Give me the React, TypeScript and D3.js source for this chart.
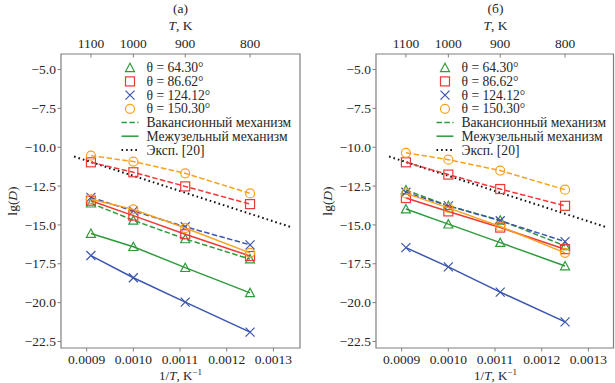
import React from "react";
import * as d3 from "d3";

const invT = [1 / 1100, 1 / 1000, 1 / 900, 1 / 800];
const tempTicks = [1100, 1000, 900, 800];
const xTicks = [0.0009, 0.001, 0.0011, 0.0012, 0.0013];
const yTicks = [-5, -7.5, -10, -12.5, -15, -17.5, -20, -22.5];
const thetaLabels = ["θ = 64.30°", "θ = 86.62°", "θ = 124.12°", "θ = 150.30°"];
const markers = ["triangle", "square", "cross", "circle"];
const colors = ["#2f9a3b", "#ec3a36", "#3a55ae", "#f7a21e"];

const vacA = [
  [-13.6, -14.7, -15.9, -17.2],
  [-10.97, -11.61, -12.52, -13.66],
  [-13.23, -14.1, -15.12, -16.28],
  [-10.54, -10.92, -11.68, -12.97],
];
const intA = [
  [-15.55, -16.4, -17.75, -19.37],
  [-13.44, -14.4, -15.6, -17.0],
  [-16.97, -18.4, -19.97, -21.9],
  [-13.35, -14.0, -15.2, -16.8],
];
const vacB = [
  [-12.75, -13.77, -14.7, -16.35],
  [-10.97, -11.76, -12.69, -13.77],
  [-12.9, -13.77, -14.73, -16.07],
  [-10.36, -10.8, -11.5, -12.73],
];
const intB = [
  [-13.98, -14.95, -16.14, -17.64],
  [-13.27, -14.13, -15.17, -16.56],
  [-16.46, -17.7, -19.32, -21.24],
  [-12.97, -13.9, -15.1, -16.8],
];
const expX = [0.000873, 0.001336];
const expY = [-10.6, -15.12];
const legendLines = ["Вакансионный механизм", "Межузельный механизм", "Эксп. [20]"];

const FONT = '"Liberation Serif", "Times New Roman", Times, serif';
const TXT = "#262626";
const FRAME = "#7f7f7f";
const FS = 13.5;
const LFS = 13.6;

function Marker({ type, x, y, color }: { type: string; x: number; y: number; color: string }) {
  const s = 4.5;
  const common = { fill: "none", stroke: color, strokeWidth: 1.2 };
  if (type === "triangle") {
    const p = [
      [x, y - s],
      [x - s, y + s * 0.85],
      [x + s, y + s * 0.85],
    ];
    return <polygon points={p.map((d) => d.join(",")).join(" ")} {...common} />;
  }
  if (type === "square") return <rect x={x - s} y={y - s} width={2 * s} height={2 * s} {...common} />;
  if (type === "circle") return <circle cx={x} cy={y} r={s} {...common} />;
  return (
    <path d={`M${x - s},${y - s}L${x + s},${y + s}M${x - s},${y + s}L${x + s},${y - s}`} {...common} />
  );
}

function Panel({ x0, title, vac, inter }: { x0: number; title: string; vac: number[][]; inter: number[][] }) {
  const left = x0 + 61;
  const right = x0 + 300;
  const top = 54;
  const bottom = 348;
  const x = d3.scaleLinear().domain([0.000845, 0.001357]).range([left, right]);
  const y = d3.scaleLinear().domain([-22.92, -4.0]).range([bottom, top]);
  const line = d3
    .line<number>()
    .x((_, i) => x(invT[i]))
    .y((d) => y(d));
  const cx = (left + right) / 2;
  const frameRight = Math.min(right, 613.5);
  const expLine = d3
    .line<number>()
    .x((_, i) => x(expX[i]))
    .y((d) => y(d));
  const legX = x0 + 130;
  const legY0 = 67.7;
  const legDy = 13.7;
  return (
    <g style={{ fontFamily: FONT }}>
      <text x={cx} y={13} textAnchor="middle" fontSize={FS} fill={TXT}>
        {title}
      </text>
      <text x={cx} y={30} textAnchor="middle" fontSize={FS} fill={TXT}>
        <tspan fontStyle="italic">T</tspan>, K
      </text>
      {tempTicks.map((t) => (
        <g key={t}>
          <line x1={x(1 / t)} x2={x(1 / t)} y1={top} y2={top + 3.5} stroke={FRAME} strokeWidth={1} />
          <text x={x(1 / t)} y={48} textAnchor="middle" fontSize={FS} fill={TXT}>
            {t}
          </text>
        </g>
      ))}
      {xTicks.map((t) => (
        <g key={t}>
          <line x1={x(t)} x2={x(t)} y1={bottom} y2={bottom + 3.5} stroke={FRAME} strokeWidth={1} />
          <text x={x(t)} y={364} textAnchor="middle" fontSize={FS} fill={TXT}>
            {t.toFixed(4)}
          </text>
        </g>
      ))}
      {yTicks.map((t) => (
        <g key={t}>
          <line x1={left - 3.5} x2={left} y1={y(t)} y2={y(t)} stroke={FRAME} strokeWidth={1} />
          <text x={left - 5} y={y(t) + 4.7} textAnchor="end" fontSize={FS} fill={TXT}>
            {"\u2212" + Math.abs(t).toFixed(1)}
          </text>
        </g>
      ))}
      <text x={cx} y={379.5} textAnchor="middle" fontSize={13} fill={TXT}>
        1/<tspan fontStyle="italic">T</tspan>, K
        <tspan fontSize={9} dy={-5}>
          {"\u22121"}
        </tspan>
      </text>
      <text
        transform={`translate(${x0 + 17},${(top + bottom) / 2}) rotate(-90)`}
        textAnchor="middle"
        fontSize={FS}
        fill={TXT}
      >
        lg(<tspan fontStyle="italic">D</tspan>)
      </text>
      <path d={expLine(expY) || ""} fill="none" stroke="#111" strokeWidth={2} strokeDasharray="1.6 3" strokeLinecap="butt" />
      {vac.map((s, k) => (
        <g key={"v" + k}>
          <path d={line(s) || ""} fill="none" stroke={colors[k]} strokeWidth={1.5} strokeDasharray="5.5 2.4" />
          {s.map((v, i) => (
            <Marker key={i} type={markers[k]} x={x(invT[i])} y={y(v)} color={colors[k]} />
          ))}
        </g>
      ))}
      {inter.map((s, k) => (
        <g key={"i" + k}>
          <path d={line(s) || ""} fill="none" stroke={colors[k]} strokeWidth={1.5} />
          {s.map((v, i) => (
            <Marker key={i} type={markers[k]} x={x(invT[i])} y={y(v)} color={colors[k]} />
          ))}
        </g>
      ))}
      <path
        d={`M${left},${top}H${frameRight}V${bottom}H${left}Z`}
        fill="none"
        stroke={FRAME}
        strokeWidth={1.2}
      />
      {thetaLabels.map((l, k) => (
        <g key={l}>
          <Marker type={markers[k]} x={legX} y={legY0 + k * legDy} color={colors[k]} />
          <text x={legX + 16.5} y={legY0 + k * legDy + 4.6} fontSize={LFS} fill={TXT}>
            {l}
          </text>
        </g>
      ))}
      {legendLines.map((l, k) => {
        const yy = legY0 + (k + 4) * legDy;
        const stroke = k === 2 ? "#111" : colors[0];
        const dash = k === 0 ? "5.5 2.4" : k === 2 ? "1.6 3" : undefined;
        return (
          <g key={l}>
            <line
              x1={legX - 8.5}
              x2={legX + 8.5}
              y1={yy}
              y2={yy}
              stroke={stroke}
              strokeWidth={k === 2 ? 2 : 1.5}
              strokeDasharray={dash}
            />
            <text x={legX + 16.5} y={yy + 4.6} fontSize={LFS} fill={TXT}>
              {l}
            </text>
          </g>
        );
      })}
    </g>
  );
}

export default function App() {
  return (
    <svg
      width={615}
      height={383}
      style={{ position: "absolute", left: 0, top: 0, background: "#fff" }}
    >
      <rect width={615} height={383} fill="#fff" />
      <Panel x0={0} title="(a)" vac={vacA} inter={intA} />
      <Panel x0={315} title="(б)" vac={vacB} inter={intB} />
    </svg>
  );
}
